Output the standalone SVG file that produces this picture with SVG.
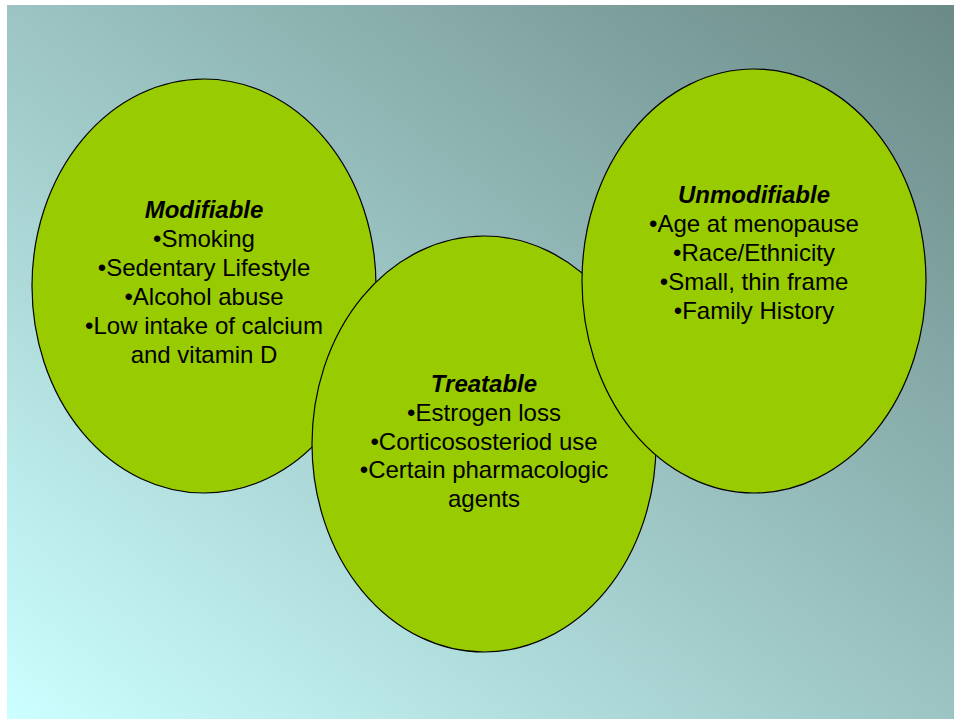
<svg xmlns="http://www.w3.org/2000/svg" width="954" height="719" viewBox="0 0 954 719">
<defs>
<linearGradient id="bg" x1="0" y1="1" x2="1" y2="0">
<stop offset="0" stop-color="#ccffff"/>
<stop offset="1" stop-color="#6b8a87"/>
</linearGradient>
<style>
.e{fill:#99cc00;stroke:#000;stroke-width:1.2}
text{font-family:"Liberation Sans",Arial,sans-serif;font-size:24px;fill:#000;text-anchor:middle}
.t{font-weight:bold;font-style:italic}
</style>
</defs>
<rect x="0" y="0" width="954" height="719" fill="#fff"/>
<rect x="7" y="5" width="947" height="714" fill="url(#bg)"/>
<g id="connectors"/>
<g id="modifiable">
<ellipse class="e" cx="204" cy="286" rx="172" ry="207"/>
<text x="204" y="218" class="t">Modifiable</text>
<text x="204" y="247">•Smoking</text>
<text x="204" y="276">•Sedentary Lifestyle</text>
<text x="204" y="305">•Alcohol abuse</text>
<text x="204" y="334">•Low intake of calcium</text>
<text x="204" y="363">and vitamin D</text>
</g>
<g id="treatable">
<ellipse class="e" cx="484" cy="444" rx="172" ry="208"/>
<text x="484" y="392" class="t">Treatable</text>
<text x="484" y="421">•Estrogen loss</text>
<text x="484" y="450">•Corticososteriod use</text>
<text x="484" y="478">•Certain pharmacologic</text>
<text x="484" y="507">agents</text>
</g>
<g id="unmodifiable">
<ellipse class="e" cx="754" cy="281" rx="172" ry="212"/>
<text x="754" y="203" class="t">Unmodifiable</text>
<text x="754" y="232">•Age at menopause</text>
<text x="754" y="261">•Race/Ethnicity</text>
<text x="754" y="290">•Small, thin frame</text>
<text x="754" y="319">•Family History</text>
</g>
</svg>
